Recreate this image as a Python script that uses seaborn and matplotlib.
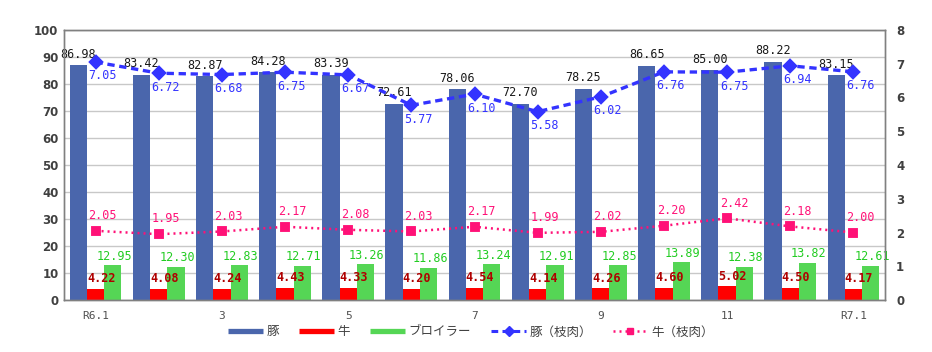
import matplotlib
matplotlib.use("Agg")
import matplotlib.pyplot as plt
import numpy as np
import pandas as pd
import seaborn as sns
from matplotlib.lines import Line2D

# data
months = ["R6.1", "R6.2", "R6.3", "R6.4", "R6.5", "R6.6", "R6.7",
          "R6.8", "R6.9", "R6.10", "R6.11", "R6.12", "R7.1"]
tick_labels = ["R6.1", "", "3", "", "5", "", "7", "", "9", "", "11", "", "R7.1"]
pork = [86.98, 83.42, 82.87, 84.28, 83.39, 72.61, 78.06, 72.70, 78.25, 86.65, 85.00, 88.22, 83.15]
beef = [4.22, 4.08, 4.24, 4.43, 4.33, 4.20, 4.54, 4.14, 4.26, 4.60, 5.02, 4.50, 4.17]
broiler = [12.95, 12.30, 12.83, 12.71, 13.26, 11.86, 13.24, 12.91, 12.85, 13.89, 12.38, 13.82, 12.61]
pork_carcass = [7.05, 6.72, 6.68, 6.75, 6.67, 5.77, 6.10, 5.58, 6.02, 6.76, 6.75, 6.94, 6.76]
beef_carcass = [2.05, 1.95, 2.03, 2.17, 2.08, 2.03, 2.17, 1.99, 2.02, 2.20, 2.42, 2.18, 2.00]

bar_names = ["豚", "牛", "ブロイラー"]
bar_colors = ["#4A66AC", "#FF0000", "#55D655"]
label_colors = ["#1A1A1A", "#B00000", "#22CC22"]
blue = "#3333FF"
pink = "#FF1177"

sns.set_theme(style="white")
plt.rcParams["font.family"] = ["DejaVu Sans", "Noto Sans CJK JP"]

df = pd.DataFrame({
    "month": months * 3,
    "kind": [n for n in bar_names for _ in months],
    "value": pork + beef + broiler,
})
df_lines = pd.DataFrame({"month": months, "pork_c": pork_carcass, "beef_c": beef_carcass})

fig = plt.figure(figsize=(9.32, 3.52), dpi=100)
ax = fig.add_axes([64 / 932, 1 - 300 / 352, (885 - 64) / 932, 270 / 352])

sns.barplot(data=df, x="month", y="value", hue="kind", order=months,
            hue_order=bar_names, palette=bar_colors, width=0.82, gap=0,
            saturation=1, errorbar=None, ax=ax, legend=False, linewidth=0)

ax.set_ylim(0, 100)
ax.set_yticks(range(0, 101, 10))
ax.set_xlim(-0.5, len(months) - 0.5)
ax.yaxis.grid(True, color="#C8C8C8", linewidth=1)
ax.set_axisbelow(True)
ax.set_xlabel("")
ax.set_ylabel("")
ax.set_xticks(range(len(months)))
ax.set_xticklabels(tick_labels, family="DejaVu Sans Mono", fontsize=8, color="#505050")
ax.tick_params(axis="x", length=0, pad=8)
ax.tick_params(axis="y", length=0, pad=4, labelsize=8.5, labelcolor="#404040")
for t in ax.get_yticklabels():
    t.set_fontweight("bold")
for s in ax.spines.values():
    s.set_color("#808080")
    s.set_linewidth(1)

# bar value labels
offsets = [(0, 8), (4, 7.5), (1, 6.5)]
weights = ["normal", "bold", "normal"]
for cont, col, off, w in zip(ax.containers, label_colors, offsets, weights):
    for rect, v in zip(cont, cont.datavalues):
        ax.annotate(f"{v:.2f}", (rect.get_x() + rect.get_width() / 2, rect.get_height()),
                    xytext=off, textcoords="offset points", ha="center", va="center",
                    fontsize=8.5, family="DejaVu Sans Mono", color=col, fontweight=w)

ax2 = ax.twinx()
sns.pointplot(data=df_lines, x="month", y="pork_c", order=months, color=blue,
              marker="D", linestyle="--", linewidth=2.4,
              errorbar=None, ax=ax2)
sns.pointplot(data=df_lines, x="month", y="beef_c", order=months, color=pink,
              marker="s", linestyle=":", linewidth=1.8,
              errorbar=None, ax=ax2)
ax2.lines[0].set_dashes([2.2, 1.4])
ax2.lines[0].set_markersize(6)
ax2.lines[1].set_dashes([0.8, 1.6])
ax2.lines[1].set_markersize(5.5)
ax2.set_ylim(0, 8)
ax2.set_xlim(-0.5, len(months) - 0.5)
ax2.set_ylabel("")
ax2.set_xlabel("")
ax2.grid(False)
ax2.tick_params(axis="y", length=0, pad=8, labelsize=8.5, labelcolor="#404040")
for t in ax2.get_yticklabels():
    t.set_fontweight("bold")
for s in ax2.spines.values():
    s.set_color("#808080")
    s.set_linewidth(1)

for i, v in enumerate(pork_carcass):
    ax2.annotate(f"{v:.2f}", (i, v), xytext=(5, -10), textcoords="offset points",
                 ha="center", va="center", fontsize=8.5, family="DejaVu Sans Mono", color=blue)
for i, v in enumerate(beef_carcass):
    ax2.annotate(f"{v:.2f}", (i, v), xytext=(5, 11), textcoords="offset points",
                 ha="center", va="center", fontsize=8.5, family="DejaVu Sans Mono", color=pink)

handles = [Line2D([], [], color=c, linewidth=3.8, solid_capstyle="butt") for c in bar_colors]
handles.append(Line2D([], [], color=blue, linestyle=(0, (2.2, 1.4)), linewidth=2.2,
                      marker="D", markersize=5))
handles.append(Line2D([], [], color=pink, linestyle=(0, (0.8, 1.6)), linewidth=1.8,
                      marker="s", markersize=5))
names = bar_names + ["豚（枝肉）", "牛（枝肉）"]
leg = fig.legend(handles, names, loc="center", bbox_to_anchor=(0.505, 0.057), ncol=5,
                 frameon=False, handlelength=2.8, handletextpad=0.3, columnspacing=1.6,
                 prop={"family": ["Noto Sans CJK JP", "DejaVu Sans"], "size": 9})
for t in leg.get_texts():
    t.set_color("#404040")

fig.savefig("out.png", dpi=100)
